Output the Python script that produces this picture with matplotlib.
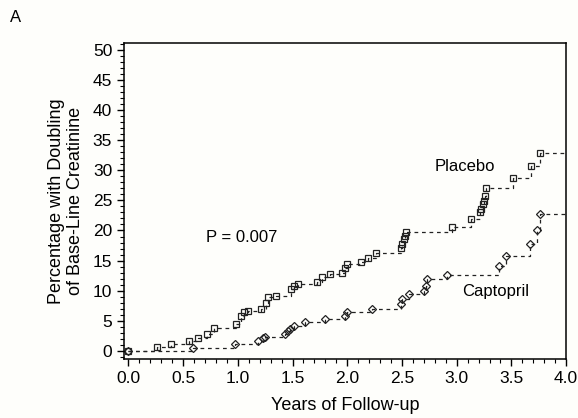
#!/usr/bin/env python3
"""Cumulative incidence of doubling of base-line creatinine, placebo vs captopril."""

import matplotlib

matplotlib.use("Agg")

import matplotlib.pyplot as plt
from matplotlib.ticker import MultipleLocator

plt.rcParams["font.family"] = ["Liberation Sans", "DejaVu Sans"]

# event times (years) and cumulative percentage after each event
placebo_years = [
    0.0, 0.26, 0.39, 0.55, 0.64, 0.72, 0.78, 0.98, 1.03, 1.06, 1.09, 1.21,
    1.26, 1.28, 1.35, 1.49, 1.51, 1.55, 1.72, 1.77, 1.84, 1.95, 1.98, 2.00,
    2.13, 2.19, 2.26, 2.49, 2.50, 2.52, 2.53, 2.54, 2.96, 3.13, 3.21, 3.22,
    3.24, 3.25, 3.26, 3.27, 3.51, 3.68, 3.76,
]
placebo_pct = [
    0.0, 0.55, 1.1, 1.6, 2.05, 2.8, 3.7, 4.4, 5.8, 6.4, 6.6, 6.9,
    8.0, 8.9, 9.1, 10.3, 10.8, 11.1, 11.5, 12.2, 12.7, 13.0, 13.8, 14.4,
    14.8, 15.4, 16.2, 17.1, 17.7, 18.6, 19.1, 19.7, 20.6, 21.9, 23.0, 23.5,
    24.4, 24.9, 25.7, 27.0, 28.8, 30.7, 32.9,
]

captopril_years = [
    0.0, 0.59, 0.97, 1.18, 1.23, 1.25, 1.43, 1.46, 1.48, 1.51, 1.61, 1.80,
    1.98, 2.00, 2.23, 2.49, 2.50, 2.56, 2.70, 2.72, 2.73, 2.91, 3.39, 3.45,
    3.67, 3.73, 3.76,
]
captopril_pct = [
    0.0, 0.45, 1.1, 1.65, 2.1, 2.3, 2.8, 3.3, 3.6, 4.15, 4.7, 5.3,
    5.8, 6.4, 6.9, 7.75, 8.6, 9.4, 10.0, 10.8, 11.9, 12.6, 14.1, 15.8,
    17.7, 20.0, 22.7,
]

end_of_followup = 4.0


def draw_curve(ax, years, pct, marker, size):
    xs = years + [end_of_followup]
    ys = pct + [pct[-1]]
    ax.step(xs, ys, where="post", color="#222222", linestyle=(0, (3, 3)), linewidth=0.9)
    ax.plot(years, pct, linestyle="none", marker=marker, markersize=size,
            markerfacecolor="none", markeredgecolor="#222222", markeredgewidth=0.9)


def main() -> None:
    fig = plt.figure(figsize=(5.78, 4.18), dpi=100, facecolor="#fefefb")
    ax = fig.add_axes([0.2145, 0.141, 0.765, 0.756])
    ax.set_facecolor("#fefefb")

    draw_curve(ax, placebo_years, placebo_pct, "s", 5)
    draw_curve(ax, captopril_years, captopril_pct, "D", 4.3)

    ax.set_xlim(-0.04, 4.0)
    ax.set_ylim(-1.4, 51.2)
    ax.xaxis.set_major_locator(MultipleLocator(0.5))
    ax.xaxis.set_minor_locator(MultipleLocator(0.1))
    ax.yaxis.set_major_locator(MultipleLocator(5))
    ax.yaxis.set_minor_locator(MultipleLocator(1))
    ax.xaxis.set_major_formatter(matplotlib.ticker.FormatStrFormatter("%.1f"))
    ax.tick_params(which="major", direction="out", length=5, width=1, labelsize=12.5)
    ax.tick_params(which="minor", direction="out", length=3, width=0.8)
    for spine in ax.spines.values():
        spine.set_linewidth(1.1)

    ax.set_xlabel("Years of Follow-up", fontsize=13, labelpad=8)
    ax.set_ylabel("Percentage with Doubling\nof Base-Line Creatinine", fontsize=13,
                  labelpad=6)

    ax.text(0.71, 18.8, "P = 0.007", fontsize=12, va="center", ha="left")
    ax.text(2.80, 30.7, "Placebo", fontsize=12, va="center", ha="left")
    ax.text(3.05, 9.8, "Captopril", fontsize=12, va="center", ha="left")

    fig.text(0.018, 0.958, "A", fontsize=12, va="center", ha="left")

    fig.savefig("out.png", dpi=100, facecolor=fig.get_facecolor())
    plt.close(fig)


if __name__ == "__main__":
    main()
